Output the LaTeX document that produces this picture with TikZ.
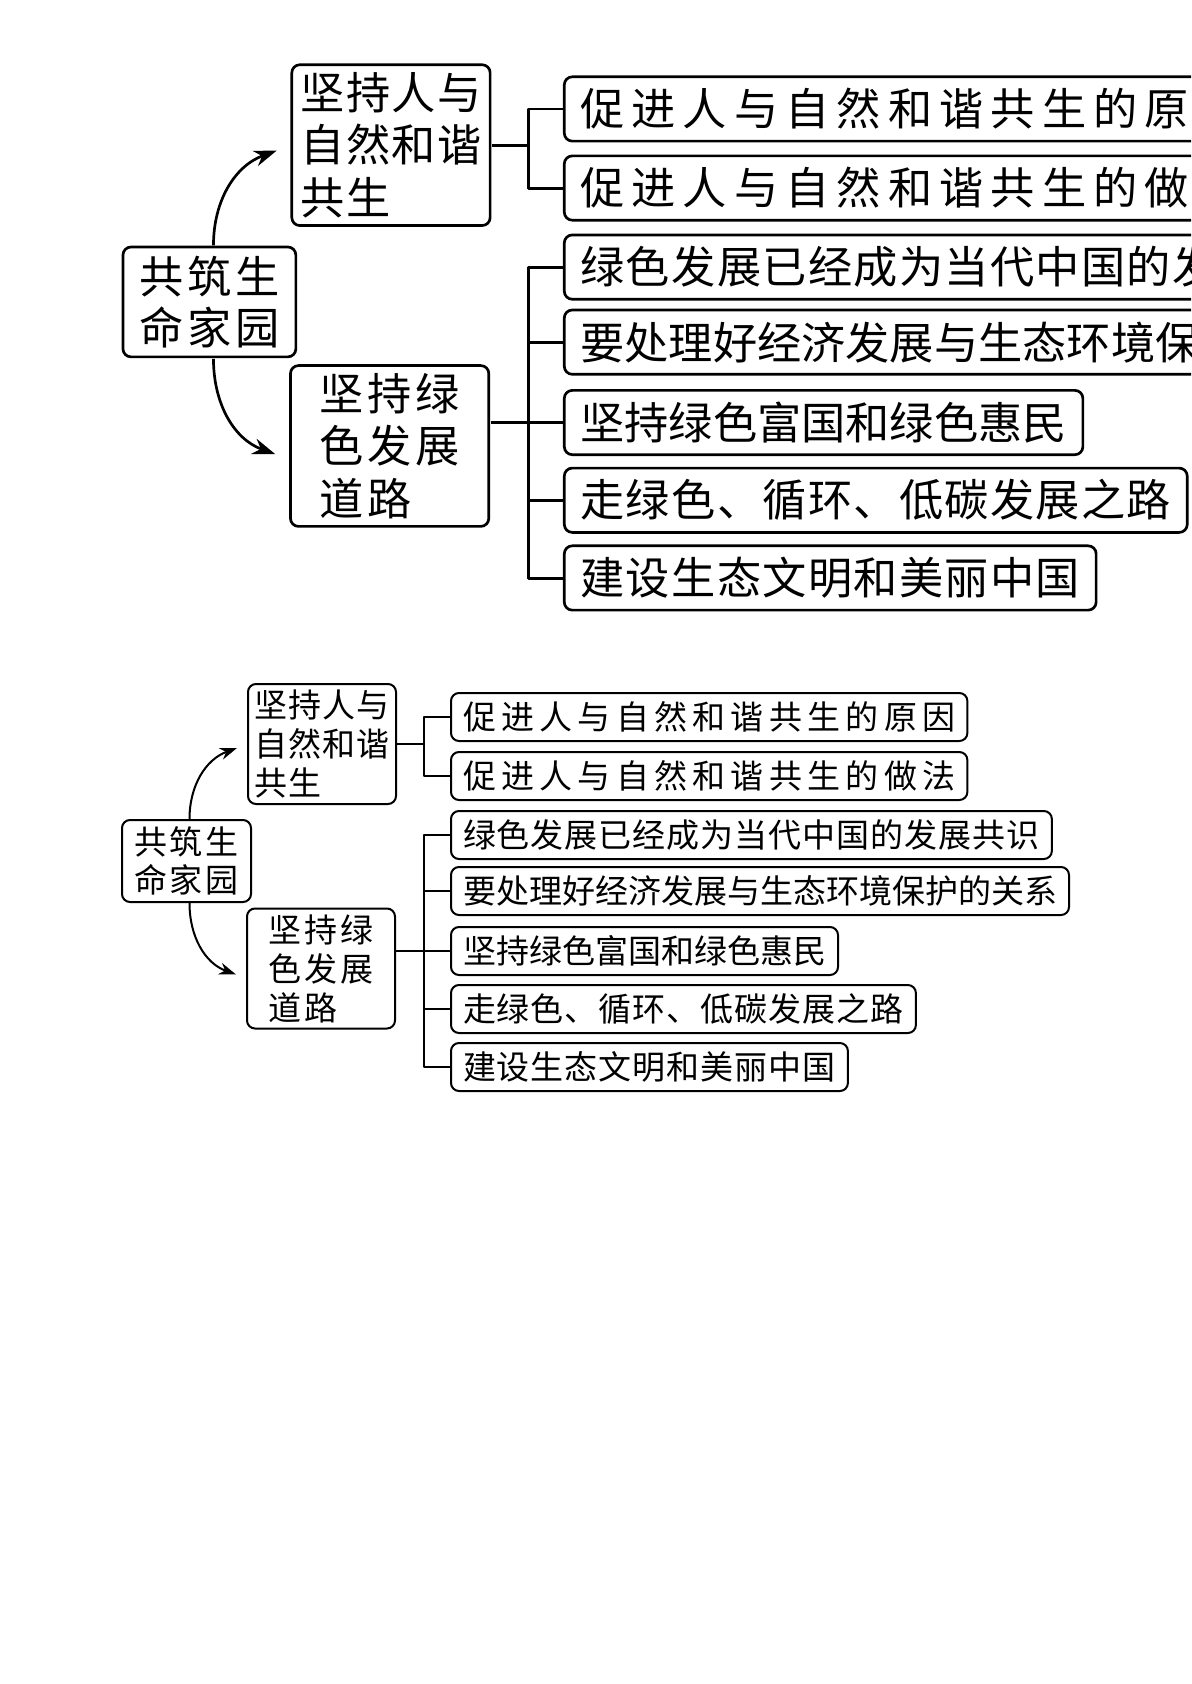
\documentclass[tikz,border=0pt]{standalone}
\usepackage{fontspec}
\setmainfont{Noto Sans CJK SC}
\usetikzlibrary{arrows.meta}

\tikzset{
  box/.style={draw, rounded corners=4pt, inner sep=0pt,
    font=\fontsize{16.5}{19.5}\selectfont},
  rootbox/.style={box, minimum width=64.5pt, minimum height=41pt, align=center,
    font=\fontsize{16.5}{19}\selectfont\addfontfeatures{LetterSpace=9}},
  midbox/.style={box, minimum width=74pt, minimum height=60pt, align=left},
  leafbox/.style={box, anchor=west, minimum height=24pt, inner xsep=6pt},
  wide/.style={font=\fontsize{16.5}{19.5}\selectfont\addfontfeatures{LetterSpace=#1}},
  link/.style={-{Stealth[length=0pt 8.5,width=0pt 6]}},
}

\begin{document}
\begin{tikzpicture}[x=0.5pt, y=-0.5pt, line join=round]

\useasboundingbox (0,0) rectangle (1191,1684);

\def\drawmap{%
  \node[rootbox] (root) at (186.5,861) {共筑生\\命家园};
  \node[midbox, wide=3] (m1) at (322,744) {坚持人与\\自然和谐\\共生};
  \node[midbox, wide=9] (m2) at (321,968.5) {坚持绿\\色发展\\道路};

  \node[leafbox, wide=16] (l1) at (450,717) {促进人与自然和谐共生的原因};
  \node[leafbox, wide=16] (l2) at (450,776) {促进人与自然和谐共生的做法};
  \node[leafbox, wide=3] (l3) at (450,835) {绿色发展已经成为当代中国的发展共识};
  \node[leafbox] (l4) at (450,891) {要处理好经济发展与生态环境保护的关系};
  \node[leafbox] (l5) at (450,951) {坚持绿色富国和绿色惠民};
  \node[leafbox, wide=3] (l6) at (450,1009) {走绿色、循环、低碳发展之路};
  \node[leafbox, wide=3] (l7) at (450,1067) {建设生态文明和美丽中国};

  \draw[link] ([xshift=1.5pt]root.north) to[out=90, in=200] ([xshift=-5pt, yshift=-2pt]m1.west);
  \draw[link] ([xshift=1.5pt]root.south) to[out=-90, in=160] ([xshift=-5pt, yshift=-3pt]m2.west);

  \draw (m1.east) -- ++(27,0) coordinate (j1);
  \draw (j1) |- (l1.west);
  \draw (j1) |- (l2.west);

  \draw (m2.east |- l5.west) -- (l5.west);
  \coordinate (j2) at (l5.west -| j1);
  \foreach \n in {l3,l4,l6,l7}
    \draw (j2) |- (\n.west);
}

\begin{scope}
  \clip (0,0) rectangle (1191,620);
  \begin{scope}[name prefix=big-, shift={(-40.5,-851.8)}, scale=1.34,
      transform shape, line width=1.34pt]
    \drawmap
  \end{scope}
\end{scope}

\begin{scope}[name prefix=small-, line width=1pt]
  \drawmap
\end{scope}

\end{tikzpicture}
\end{document}
